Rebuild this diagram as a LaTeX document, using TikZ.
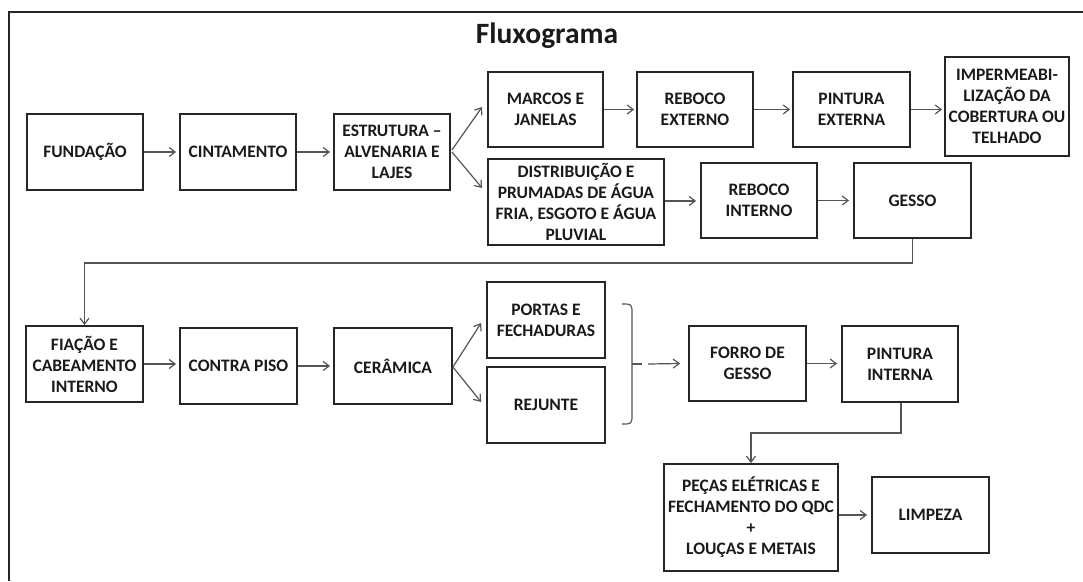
\documentclass[tikz,border=0pt]{standalone}
\usepackage{fontspec}
\setmainfont{Carlito}
\usetikzlibrary{arrows.meta,calc}
\definecolor{boxline}{HTML}{262626}
\definecolor{arrline}{HTML}{555555}
\definecolor{txt}{HTML}{1A1A1A}
\tikzset{
  box/.style={draw=boxline, line width=1.8pt, inner sep=0pt, align=center,
    text=txt, font=\fontsize{17.5}{21}\selectfont\bfseries},
  arr/.style={draw=arrline, line width=1.2pt,
    -{Straight Barb[length=6pt,width=9pt,line width=1.2pt]}},
  link/.style={draw=arrline, line width=1.2pt},
}
\newcommand{\bx}[5]{\node[box, minimum width=#3pt, minimum height=#4pt] (#1) at (#2) {#5};}
\begin{document}
\begin{tikzpicture}[x=1pt,y=-1pt]
\useasboundingbox (0,0) rectangle (1083,581);
% outer frame (top and left edges)
\draw[draw=boxline, line width=1.8pt] (9,581) -- (9,12) -- (1083,12);
\node[text=txt, font=\fontsize{29.5}{34}\selectfont\bfseries] (title) at (547,36) {Fluxograma};

% first row
\bx{fund}{85,152}{116}{76}{FUNDAÇÃO}
\bx{cint}{238,152}{116}{76}{CINTAMENTO}
\bx{estr}{392,152}{116}{76}{ESTRUTURA –\\ALVENARIA E\\LAJES}
\bx{marcos}{545.5,109.5}{115}{75}{MARCOS E\\JANELAS}
\bx{rebext}{695,109.5}{116}{75}{REBOCO\\EXTERNO}
\bx{pintext}{851.5,109.5}{117}{75}{PINTURA\\EXTERNA}
\bx{imperm}{1007,106.5}{124}{99}{IMPERMEABI-\\LIZAÇÃO DA\\COBERTURA OU\\TELHADO}
\bx{distrib}{576,202}{176}{86}{DISTRIBUIÇÃO E\\PRUMADAS DE ÁGUA\\FRIA, ESGOTO E ÁGUA\\PLUVIAL}
\bx{rebint}{759,200.5}{116}{75}{REBOCO\\INTERNO}
\bx{gesso}{912.5,200.5}{117}{75}{GESSO}

% second row
\bx{fiacao}{84.5,364}{117}{76}{FIAÇÃO E\\CABEAMENTO\\INTERNO}
\bx{contra}{238.5,366}{117}{76}{CONTRA PISO}
\bx{ceram}{393,366}{118}{76}{CERÂMICA}
\bx{portas}{546,320}{118}{76}{PORTAS E\\FECHADURAS}
\bx{rejunte}{546,405}{118}{76}{REJUNTE}
\bx{forro}{747.5,363.5}{117}{75}{FORRO DE\\GESSO}
\bx{pintint}{900,364}{116}{76}{PINTURA\\INTERNA}

% third row
\bx{pecas}{751,517.5}{174}{107}{PEÇAS ELÉTRICAS E\\FECHAMENTO DO QDC\\+\\LOUÇAS E METAIS}
\bx{limpeza}{930.5,515}{117}{76}{LIMPEZA}

% connectors, first row
\draw[arr] (fund.east) -- ($(cint.west)+(-3,0)$);
\draw[arr] (cint.east) -- ($(estr.west)+(-3,0)$);
\draw[arr] ($(estr.east)+(1,-2)$) -- ($(marcos.west)+(-5,-2.5)$);
\draw[arr] ($(estr.east)+(1,0)$) -- ($(distrib.west)+(-5,-14)$);
\draw[arr] (marcos.east) -- ($(rebext.west)+(-2,0)$);
\draw[arr] (rebext.east) -- ($(pintext.west)+(-2,0)$);
\draw[arr] (pintext.east) -- ($(imperm.west |- pintext.east)+(-2,0)$);
\draw[arr] ($(distrib.east)+(0,-1)$) -- ($(rebint.west |- distrib.east)+(-4,-1)$);
\draw[arr] (rebint.east) -- ($(gesso.west)+(-4,0)$);
\draw[arr] (gesso.south) -- ++(0,24) -| (fiacao.north);

% connectors, second row
\draw[arr] (fiacao.east) -- ($(fiacao.east -| contra.west)+(-3,0)$);
\draw[arr] (contra.east) -- ($(ceram.west)+(-3,0)$);
\draw[arr] ($(ceram.east)+(0,1)$) -- ($(portas.west)+(-5,3)$);
\draw[arr] ($(ceram.east)+(0,1)$) -- ($(rejunte.west)+(-5,-3)$);

% brace gathering both finishes
\coordinate (brk) at (642,364);
\draw[link] (622,304) .. controls (632,304) .. (632,314) -- (632,414)
  .. controls (632,424) .. (622,424);
\draw[link] (632,364) -- (brk);
\draw[arr] ($(brk)+(6,0)$) -- ($(forro.west)+(-8,0)$);
\draw[arr] (forro.east) -- ($(pintint.west |- forro.east)+(-4,0)$);
\draw[arr] (pintint.south) ++(1,0) -- ++(0,30) -| (pecas.north);

% connector, third row
\draw[arr] (pecas.east |- limpeza.west) -- ($(limpeza.west)+(-4,0)$);
\end{tikzpicture}
\end{document}
